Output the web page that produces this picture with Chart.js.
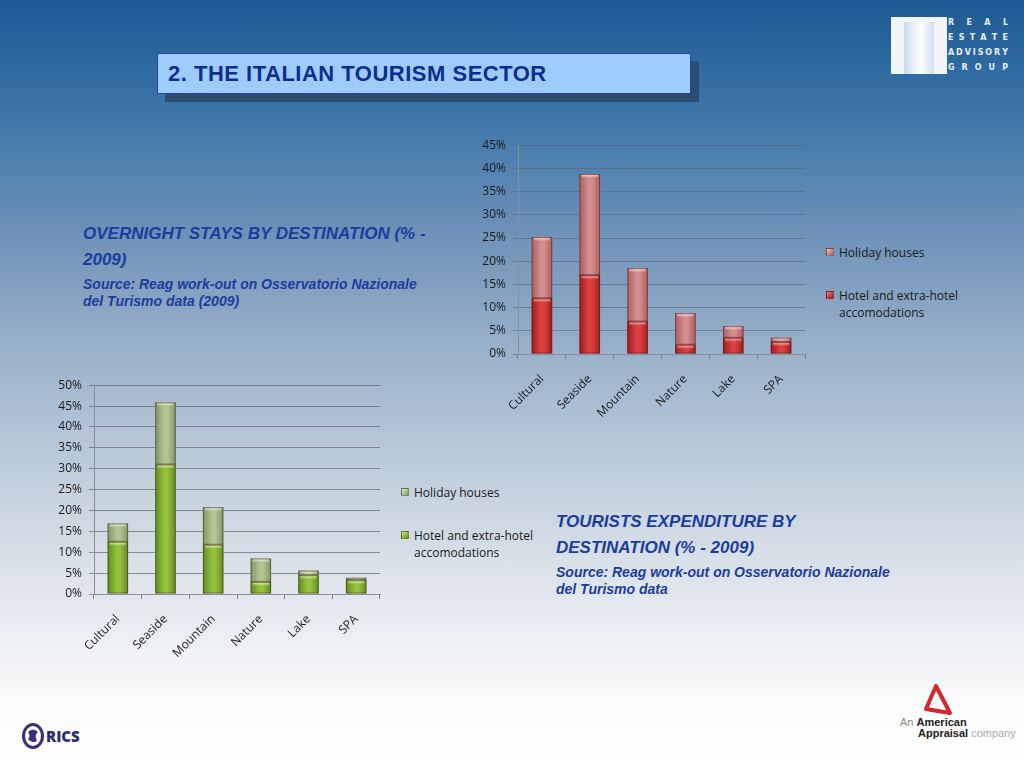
<!DOCTYPE html>
<html lang="en">
<meta charset="utf-8" />
<title>2. The Italian tourism sector</title>
<script src="https://cdn.jsdelivr.net/npm/chart.js@4.4.1"></script>

<style>
*{box-sizing:border-box}
html,body{margin:0;width:1024px;height:768px;overflow:hidden}
body{position:relative;font-family:"Liberation Sans",Arial,sans-serif;
  background:linear-gradient(to bottom,#1d5a93 0%,#3a74a8 14%,#6d91b7 30%,#98b0c9 45%,#c1cfdc 62%,#e3e8ee 78%,#f4f5f7 88%,#fbfbfb 91%,#fff 100%)}
.abs{position:absolute}
/* title box */
#titleShadow{left:165px;top:61px;width:534px;height:41px;background:#2e4d6e}
#title{left:157px;top:53px;width:534px;height:41px;background:#9dccfd;border:1px solid #2446b0;
  color:#0f2d8c;font-weight:bold;font-size:22px;letter-spacing:.5px;line-height:39px;padding-left:10px}
.head{color:#1b3d9f;font-weight:bold;font-style:italic;font-size:17px;line-height:26px}
.src{color:#1b3d9f;font-weight:bold;font-style:italic;font-size:14px;line-height:17px;margin-top:3px}
canvas{position:absolute}
.legend{position:absolute;font-family:"Open Sans",sans-serif;font-size:12px;color:#1a1a1a;line-height:17px}
.legend .it{position:relative;padding-left:13px;width:140px}
.legend .sw{position:absolute;left:0;top:4px;width:8px;height:8px;border:1px solid rgba(0,0,0,.35)}
/* logos */
#reag{left:891px;top:17px;width:56px;height:57px;background:#f2f6fb}
#tower{left:904px;top:22px;width:30px;height:52px;background:linear-gradient(to right,#c9d9ec,#ffffff 55%,#d2def0)}
#reagTxt{left:948px;top:15px;width:60px;font-family:"DejaVu Sans",sans-serif;font-size:8px;line-height:15px;color:#e8eef8;font-weight:bold}
#reagTxt div{display:flex;justify-content:space-between}
#rics{left:22px;top:723px;font-family:"Open Sans",sans-serif;font-weight:800;font-size:15px;color:#2c2f6a}
#aa{left:900px;top:683px;font-family:"Liberation Sans",sans-serif;font-size:11px;line-height:11px;color:#222}
</style>

<body>
<div id="titleShadow" class="abs"></div>
<div id="title" class="abs">2. THE ITALIAN TOURISM SECTOR</div>

<div id="reag" class="abs"></div>
<div id="tower" class="abs"></div>
<div id="reagTxt" class="abs">
  <div><span>R</span><span>E</span><span>A</span><span>L</span></div>
  <div><span>E</span><span>S</span><span>T</span><span>A</span><span>T</span><span>E</span></div>
  <div><span>A</span><span>D</span><span>V</span><span>I</span><span>S</span><span>O</span><span>R</span><span>Y</span></div>
  <div><span>G</span><span>R</span><span>O</span><span>U</span><span>P</span></div>
</div>

<div class="abs" style="left:83px;top:221px;width:400px">
  <div class="head">OVERNIGHT STAYS BY DESTINATION (% -<br>2009)</div>
  <div class="src">Source: Reag work-out on Osservatorio Nazionale<br>del Turismo data (2009)</div>
</div>

<div class="abs" style="left:556px;top:509px;width:400px">
  <div class="head">TOURISTS EXPENDITURE BY<br>DESTINATION (% - 2009)</div>
  <div class="src">Source: Reag work-out on Osservatorio Nazionale<br>del Turismo data</div>
</div>

<canvas id="stays" width="345" height="296" style="left:470px;top:131px"></canvas>
<div id="legStays" class="legend" style="left:826px;top:244px"></div>

<canvas id="spend" width="340" height="296" style="left:50px;top:371px"></canvas>
<div id="legSpend" class="legend" style="left:401px;top:484px"></div>

<div id="rics" class="abs">
  <svg width="22" height="26" viewBox="0 0 22 26" style="vertical-align:middle">
    <ellipse cx="11" cy="13" rx="9.5" ry="11.5" fill="none" stroke="#3a2f7a" stroke-width="3"/>
    <path d="M6 9 Q11 4 16 9 Q12 12 15 18 Q10 21 6 16 Q9 13 6 9Z" fill="#3a2f7a"/>
  </svg><span style="vertical-align:middle;margin-left:2px">RICS</span>
</div>

<div id="aa" class="abs">
  <svg width="40" height="34" viewBox="0 0 40 34" style="display:block;margin-left:18px">
    <path d="M18 3 L32 30 L8 26 Z" fill="none" stroke="#d8262a" stroke-width="4" stroke-linejoin="round"/>
  </svg>
  <span style="color:#888">An </span><b>American</b><br>
  <span style="margin-left:18px"><b>Appraisal</b> <span style="color:#aaa">company</span></span>
</div>

<script>
/* ── data ── */
const destinations = ['Cultural','Seaside','Mountain','Nature','Lake','SPA'];

// overnight stays, % (stacked)
const staysHotel   = [12, 17, 7, 2, 3.5, 2.6];
const staysHoliday = [13.2, 21.8, 11.5, 6.8, 2.5, 0.9];
const staysTicks   = [0,5,10,15,20,25,30,35,40,45];

// tourists expenditure, % (stacked)
const spendHotel   = [12.5, 31, 11.8, 2.9, 4.5, 3.3];
const spendHoliday = [4.4, 14.9, 9, 5.6, 1.1, 0.6];
const spendTicks   = [0,5,10,15,20,25,30,35,40,45,50];

const LBL_HOLIDAY = 'Holiday houses';
const LBL_HOTEL   = 'Hotel and extra-hotel accomodations';

/* palette: edge / middle / top highlight */
const RED_HOTEL   = {edge:'#9e1d1f', mid:'#dd4040', hi:'#f58a86'};
const RED_HOLIDAY = {edge:'#a85e60', mid:'#d58d8d', hi:'#f3c7c6'};
const GRN_HOTEL   = {edge:'#5f8c1c', mid:'#95c23e', hi:'#cfee86'};
const GRN_HOLIDAY = {edge:'#7f9663', mid:'#b1c693', hi:'#dcecc0'};

/* bevelled bars: horizontal gradient per bar + light band on top */
const bevel = {
  id:'bevel',
  beforeDatasetsDraw(chart){
    const ctx = chart.ctx;
    chart.data.datasets.forEach((ds,i)=>{
      chart.getDatasetMeta(i).data.forEach(el=>{
        const {x,width} = el.getProps(['x','width'],true);
        const g = ctx.createLinearGradient(x-width/2,0,x+width/2,0);
        g.addColorStop(0,ds.pal.edge);
        g.addColorStop(0.45,ds.pal.mid);
        g.addColorStop(0.6,ds.pal.mid);
        g.addColorStop(1,ds.pal.edge);
        el.options.backgroundColor = g;
      });
    });
  },
  afterDatasetsDraw(chart){
    const ctx = chart.ctx;
    chart.data.datasets.forEach((ds,i)=>{
      chart.getDatasetMeta(i).data.forEach(el=>{
        const {x,y,base,width} = el.getProps(['x','y','base','width'],true);
        const h = Math.min(4, base-y-1);
        if (h <= 0) return;
        const g = ctx.createLinearGradient(0,y,0,y+h);
        g.addColorStop(0,ds.pal.hi);
        g.addColorStop(1,'rgba(255,255,255,0)');
        ctx.save();
        ctx.fillStyle = g;
        ctx.fillRect(x-width/2+2,y+0.5,width-4,h);
        ctx.strokeStyle = 'rgba(60,20,20,.45)';
        ctx.lineWidth = 1;
        ctx.strokeRect(x-width/2+0.5,y+0.5,width-1,base-y-1);
        ctx.restore();
      });
    });
  }
};

function makeChart(id, hotel, holiday, ticks, pal, yW, xH, gridCol){
  const mx = ticks[ticks.length-1];
  return new Chart(document.getElementById(id), {
    type:'bar',
    data:{
      labels:destinations,
      datasets:[
        {label:LBL_HOTEL,   data:hotel,   pal:pal[0], backgroundColor:()=>pal[0].mid, barPercentage:0.43, categoryPercentage:1},
        {label:LBL_HOLIDAY, data:holiday, pal:pal[1], backgroundColor:()=>pal[1].mid, barPercentage:0.43, categoryPercentage:1}
      ]
    },
    options:{
      responsive:false,
      animation:false,
      layout:{padding:{top:5,right:10}},
      plugins:{legend:{display:false},tooltip:{enabled:false}},
      scales:{
        x:{
          stacked:true,
          grid:{display:true,offset:true,drawOnChartArea:false,drawTicks:true,tickLength:5,color:'#7a7f86'},
          border:{display:true,color:'#8a8f96'},
          ticks:{minRotation:45,maxRotation:45,padding:13,color:'#1a1a1a',font:{family:'Open Sans',size:12}},
          afterFit(s){ s.height = xH; }
        },
        y:{
          stacked:true, min:0, max:mx,
          afterBuildTicks(s){ s.ticks = ticks.map(v=>({value:v})); },
          grid:{color:gridCol,tickLength:5,drawTicks:true},
          border:{display:true,color:'#8a8f96'},
          ticks:{padding:7,color:'#1a1a1a',font:{family:'Open Sans',size:12},callback:v=>v+'%'},
          afterFit(s){ s.width = yW; }
        }
      }
    },
    plugins:[bevel]
  });
}

function legend(elId, chart){
  const box = document.getElementById(elId);
  const ds = chart.data.datasets.slice().reverse();
  ds.forEach((d,k)=>{
    const it = document.createElement('div');
    it.className = 'it';
    if (k>0) it.style.marginTop = '26px';
    const sw = document.createElement('span');
    sw.className = 'sw';
    sw.style.background = `linear-gradient(135deg,${d.pal.hi},${d.pal.mid} 50%,${d.pal.edge})`;
    it.appendChild(sw);
    it.appendChild(document.createTextNode(d.label));
    box.appendChild(it);
  });
}

const c1 = makeChart('stays', staysHotel, staysHoliday, staysTicks, [RED_HOTEL,RED_HOLIDAY], 48, 73, 'rgba(80,95,115,.55)');
const c2 = makeChart('spend', spendHotel, spendHoliday, spendTicks, [GRN_HOTEL,GRN_HOLIDAY], 44, 73, 'rgba(80,85,95,.6)');
legend('legStays', c1);
legend('legSpend', c2);
</script>
</body>
</html>
